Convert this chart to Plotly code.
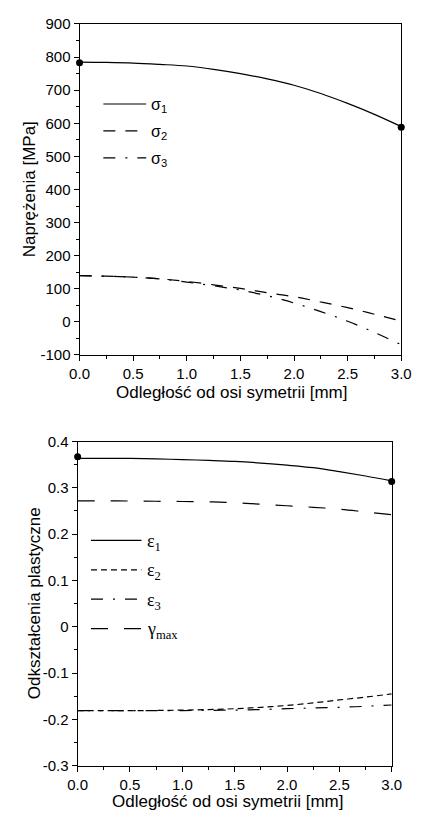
import plotly.graph_objects as go

# ---- data -------------------------------------------------------------
dist = [0.0, 0.25, 0.5, 0.75, 1.0, 1.25, 1.5, 1.75, 2.0, 2.25, 2.5, 2.75, 3.0]

sigma1 = [785, 784, 782, 778, 773, 763, 750, 734, 715, 690, 660, 627, 590]
sigma2 = [140, 138, 135, 130, 122, 112, 101, 88, 76, 60, 43, 23, 2]
sigma3 = [140, 138, 135, 130, 120, 109, 96, 79, 57, 31, 2, -32, -69]
sigma1_pts_x = [0.0, 3.0]
sigma1_pts_y = [783, 588]

eps1 = [0.3638, 0.3637, 0.3635, 0.3625, 0.361, 0.3592, 0.357, 0.3535, 0.349, 0.3435, 0.335, 0.3255, 0.315]
eps2 = [-0.181, -0.181, -0.181, -0.1808, -0.180, -0.1788, -0.177, -0.174, -0.170, -0.1645, -0.158, -0.152, -0.145]
eps3 = [-0.181, -0.181, -0.181, -0.181, -0.181, -0.1805, -0.180, -0.1788, -0.177, -0.1755, -0.174, -0.1718, -0.169]
gamma_max = [0.272, 0.2718, 0.2715, 0.271, 0.2705, 0.2698, 0.268, 0.2645, 0.2613, 0.258, 0.254, 0.248, 0.242]
eps1_pts_x = [0.0, 3.0]
eps1_pts_y = [0.367, 0.3135]

x_ticks = [0.0, 0.5, 1.0, 1.5, 2.0, 2.5, 3.0]
x_labels = ["0.0", "0.5", "1.0", "1.5", "2.0", "2.5", "3.0"]
stress_ticks = [-100, 0, 100, 200, 300, 400, 500, 600, 700, 800, 900]
stress_labels = ["-100", "0", "100", "200", "300", "400", "500", "600", "700", "800", "900"]
strain_ticks = [-0.3, -0.2, -0.1, 0.0, 0.1, 0.2, 0.3, 0.4]
strain_labels = ["-0.3", "-0.2", "-0.1", "0", "0.1", "0.2", "0.3", "0.4"]

x_title = "Odległość od osi symetrii [mm]"
stress_title = "Naprężenia [MPa]"
strain_title = "Odkształcenia plastyczne"

stress_names = ["σ<sub>1</sub>", "σ<sub>2</sub>", "σ<sub>3</sub>"]
strain_names = ["ε<sub>1</sub>", "ε<sub>2</sub>", "ε<sub>3</sub>", "γ<sub>max</sub>"]

# ---- page geometry (pixels) --------------------------------------------
W, H = 422, 819


def px(x):
    return x / W


def py(y):
    return 1 - y / H


SANS = "Liberation Sans, Arial, sans-serif"
SERIF = "Liberation Serif, Times New Roman, serif"
LW = 1.2

DASH_S2 = "12px,10px"
DASH_DOT = "12px,10px,2px,10px"
DASH_SHORT = "6px,4px"
DASH_LONG = "17px,16px"

fig = go.Figure()

# upper panel: stresses
stress_styles = ["solid", DASH_S2, DASH_DOT]
for name, vals, dash in zip(stress_names, [sigma1, sigma2, sigma3], stress_styles):
    fig.add_trace(go.Scatter(x=dist, y=vals, mode="lines", name=name, xaxis="x", yaxis="y",
                             line=dict(color="black", width=LW, dash=dash, shape="spline"),
                             showlegend=False))
fig.add_trace(go.Scatter(x=sigma1_pts_x, y=sigma1_pts_y, mode="markers", xaxis="x", yaxis="y",
                         marker=dict(color="black", size=7), cliponaxis=False, showlegend=False))

# lower panel: plastic strains
strain_styles = ["solid", DASH_SHORT, DASH_DOT, DASH_LONG]
for name, vals, dash in zip(strain_names, [eps1, eps2, eps3, gamma_max], strain_styles):
    fig.add_trace(go.Scatter(x=dist, y=vals, mode="lines", name=name, xaxis="x2", yaxis="y2",
                             line=dict(color="black", width=LW, dash=dash, shape="spline"),
                             showlegend=False))
fig.add_trace(go.Scatter(x=eps1_pts_x, y=eps1_pts_y, mode="markers", xaxis="x2", yaxis="y2",
                         marker=dict(color="black", size=7), cliponaxis=False, showlegend=False))

tick_font = dict(family=SANS, size=15, color="black")
common = dict(showline=True, linecolor="black", linewidth=1, mirror=True,
              ticks="outside", ticklen=5, tickcolor="black", tickwidth=1,
              showgrid=False, zeroline=False, tickfont=tick_font, tickmode="array")

fig.update_layout(
    width=W, height=H,
    margin=dict(l=0, r=0, t=0, b=0),
    paper_bgcolor="white", plot_bgcolor="white",
    xaxis=dict(domain=[px(73), px(410.7)], anchor="y", range=[0, 3],
               tickvals=x_ticks, ticktext=x_labels,
               minor=dict(ticks="outside", ticklen=3, tickmode="linear", tick0=0, dtick=0.25,
                          tickcolor="black"),
               **common),
    yaxis=dict(domain=[py(353.3), py(15.3)], anchor="x", range=[-100, 900],
               tickvals=stress_ticks, ticktext=stress_labels,
               minor=dict(ticks="outside", ticklen=3, tickmode="linear", tick0=0, dtick=50,
                          tickcolor="black"),
               **common),
    xaxis2=dict(domain=[px(71), px(400.7)], anchor="y2", range=[0, 3],
                tickvals=x_ticks, ticktext=x_labels,
                minor=dict(ticks="outside", ticklen=3, tickmode="linear", tick0=0, dtick=0.25,
                           tickcolor="black"),
                **common),
    yaxis2=dict(domain=[py(772.7), py(441.7)], anchor="x2", range=[-0.3, 0.4],
                tickvals=strain_ticks, ticktext=strain_labels,
                minor=dict(ticks="outside", ticklen=3, tickmode="linear", tick0=0, dtick=0.05,
                           tickcolor="black"),
                **common),
)

title_font = dict(family=SANS, size=17, color="black")
annotations = [
    dict(text=x_title, x=px(232), y=py(392), xref="paper", yref="paper",
         showarrow=False, font=title_font, xanchor="center", yanchor="middle"),
    dict(text=stress_title, x=px(20), y=py(184), xref="paper", yref="paper", textangle=-90,
         showarrow=False, font=title_font, xanchor="center", yanchor="middle"),
    dict(text=x_title, x=px(228), y=py(809), xref="paper", yref="paper",
         showarrow=False, font=title_font, xanchor="center", yanchor="middle"),
    dict(text=strain_title, x=px(26), y=py(607), xref="paper", yref="paper", textangle=-90,
         showarrow=False, font=title_font, xanchor="center", yanchor="middle"),
]

# legend keys drawn as short line samples with labels
shapes = []
for i, (name, dash) in enumerate(zip(stress_names, stress_styles)):
    yk = 97 + 27.5 * i
    shapes.append(dict(type="line", xref="paper", yref="paper",
                       x0=px(98), x1=px(143), y0=py(yk), y1=py(yk),
                       line=dict(color="black", width=LW, dash=dash)))
    annotations.append(dict(text=name, x=px(146), y=py(yk + 2), xref="paper", yref="paper",
                            showarrow=False, xanchor="left", yanchor="middle",
                            font=dict(family=SANS, size=16, color="black")))

for i, (name, dash) in enumerate(zip(strain_names, strain_styles)):
    yk = 542.7 + 30 * i
    shapes.append(dict(type="line", xref="paper", yref="paper",
                       x0=px(85), x1=px(138), y0=py(yk), y1=py(yk),
                       line=dict(color="black", width=LW, dash=dash)))
    annotations.append(dict(text=name, x=px(142), y=py(yk + 2), xref="paper", yref="paper",
                            showarrow=False, xanchor="left", yanchor="middle",
                            font=dict(family=SERIF, size=18, color="black")))

fig.update_layout(annotations=annotations, shapes=shapes)

fig.write_html("out.html")
